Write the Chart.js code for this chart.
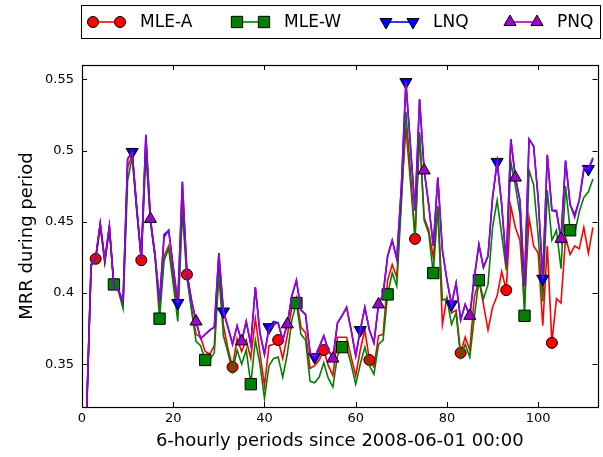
<!DOCTYPE html>
<html>
<head>
<meta charset="utf-8">
<script src="https://cdn.jsdelivr.net/npm/chart.js@4.4.1/dist/chart.umd.min.js"></script>
<style>
  html, body { margin: 0; padding: 0; background: #fff; }
  #chart { display: block; }
</style>
</head>
<body>
<canvas id="chart" width="603" height="457"></canvas>
<script>
// MRR per 6-hourly period
const mleA = [
    0.300, 0.315, 0.420, 0.424, 0.448, 0.422, 0.446, 0.404, 0.402, 0.392,
    0.488, 0.497, 0.458, 0.423, 0.505, 0.450, 0.426, 0.390, 0.426, 0.433,
    0.412, 0.388, 0.465, 0.413, 0.389, 0.371, 0.369, 0.359, 0.357, 0.363,
    0.418, 0.377, 0.361, 0.348, 0.368, 0.359, 0.367, 0.354, 0.382, 0.358,
    0.335, 0.363, 0.364, 0.367, 0.354, 0.370, 0.390, 0.397, 0.376, 0.372,
    0.347, 0.349, 0.353, 0.360, 0.349, 0.342, 0.369, 0.369, 0.369, 0.355,
    0.342, 0.360, 0.374, 0.353, 0.348, 0.370, 0.371, 0.409, 0.420, 0.411,
    0.467, 0.516, 0.478, 0.438, 0.511, 0.453, 0.444, 0.425, 0.461, 0.378,
    0.397, 0.386, 0.388, 0.358, 0.369, 0.360, 0.397, 0.409, 0.392, 0.374,
    0.390, 0.398, 0.415, 0.402, 0.461, 0.446, 0.437, 0.392, 0.453, 0.433,
    0.428, 0.377, 0.433, 0.365, 0.396, 0.393, 0.439, 0.427, 0.433, 0.431,
    0.446, 0.428, 0.446
];
const mleW = [
    0.300, 0.315, 0.419, 0.423, 0.447, 0.421, 0.445, 0.406, 0.401, 0.389,
    0.479, 0.495, 0.458, 0.423, 0.498, 0.450, 0.426, 0.382, 0.423, 0.431,
    0.406, 0.380, 0.457, 0.411, 0.388, 0.366, 0.363, 0.353, 0.353, 0.358,
    0.413, 0.370, 0.358, 0.345, 0.360, 0.350, 0.360, 0.336, 0.367, 0.350,
    0.326, 0.349, 0.354, 0.355, 0.341, 0.357, 0.381, 0.393, 0.371, 0.367,
    0.338, 0.337, 0.341, 0.351, 0.340, 0.334, 0.356, 0.362, 0.362, 0.350,
    0.336, 0.350, 0.362, 0.349, 0.343, 0.364, 0.367, 0.399, 0.414, 0.405,
    0.462, 0.527, 0.485, 0.440, 0.513, 0.451, 0.442, 0.414, 0.460, 0.395,
    0.396, 0.378, 0.386, 0.355, 0.364, 0.355, 0.383, 0.409, 0.396, 0.406,
    0.446, 0.465, 0.441, 0.416, 0.492, 0.475, 0.455, 0.384, 0.486, 0.476,
    0.440, 0.394, 0.472, 0.437, 0.444, 0.417, 0.475, 0.444, 0.442, 0.457,
    0.467, 0.471, 0.480
];
const lnq = [
    0.300, 0.315, 0.420, 0.425, 0.449, 0.423, 0.447, 0.404, 0.402, 0.394,
    0.494, 0.499, 0.460, 0.424, 0.511, 0.452, 0.427, 0.394, 0.441, 0.444,
    0.418, 0.393, 0.478, 0.414, 0.395, 0.380, 0.368, 0.371, 0.374, 0.376,
    0.428, 0.387, 0.376, 0.364, 0.377, 0.366, 0.380, 0.364, 0.404, 0.372,
    0.357, 0.376, 0.380, 0.379, 0.367, 0.378, 0.398, 0.409, 0.388, 0.385,
    0.358, 0.355, 0.362, 0.370, 0.360, 0.354, 0.379, 0.384, 0.390, 0.374,
    0.356, 0.374, 0.390, 0.374, 0.365, 0.392, 0.399, 0.426, 0.437, 0.424,
    0.474, 0.548, 0.503, 0.458, 0.536, 0.486, 0.462, 0.433, 0.481, 0.430,
    0.409, 0.392, 0.407, 0.381, 0.392, 0.384, 0.411, 0.434, 0.418, 0.426,
    0.467, 0.492, 0.462, 0.420, 0.508, 0.481, 0.465, 0.405, 0.508, 0.503,
    0.466, 0.410, 0.497, 0.458, 0.457, 0.438, 0.493, 0.462, 0.455, 0.465,
    0.486, 0.487, 0.494
];
const pnq = [
    0.300, 0.315, 0.420, 0.425, 0.449, 0.423, 0.447, 0.404, 0.402, 0.394,
    0.494, 0.499, 0.460, 0.424, 0.511, 0.452, 0.427, 0.394, 0.439, 0.444,
    0.418, 0.393, 0.478, 0.414, 0.395, 0.380, 0.368, 0.371, 0.374, 0.376,
    0.428, 0.387, 0.376, 0.364, 0.377, 0.366, 0.380, 0.364, 0.404, 0.372,
    0.357, 0.375, 0.378, 0.379, 0.367, 0.378, 0.398, 0.409, 0.388, 0.385,
    0.358, 0.355, 0.362, 0.370, 0.360, 0.354, 0.379, 0.384, 0.390, 0.374,
    0.356, 0.374, 0.390, 0.374, 0.365, 0.392, 0.399, 0.426, 0.437, 0.424,
    0.474, 0.548, 0.503, 0.458, 0.536, 0.486, 0.462, 0.433, 0.481, 0.430,
    0.409, 0.392, 0.407, 0.381, 0.392, 0.384, 0.411, 0.434, 0.418, 0.426,
    0.467, 0.492, 0.462, 0.420, 0.508, 0.481, 0.465, 0.405, 0.508, 0.503,
    0.466, 0.410, 0.497, 0.458, 0.458, 0.438, 0.493, 0.462, 0.453, 0.465,
    0.488, 0.487, 0.495
];

// period index for each value (0, 1, 2, ...)
const periods = mleA.map((_, i) => i);

const xTicks = [0, 20, 40, 60, 80, 100];
const yTicks = [0.35, 0.40, 0.45, 0.50, 0.55];

// a marker every 10 points, first one at 'start' (3, 7, 11, 15)
const markEvery = 10;

const seriesInfo = [
    { label: 'MLE-A', values: mleA, color: '#ff0000', marker: 'circle',   start: 3,  radius: 5.5, rot: 0 },
    { label: 'MLE-W', values: mleW, color: '#008000', marker: 'rect',     start: 7,  radius: 8,   rot: 0 },
    { label: 'LNQ',   values: lnq,  color: '#0000ff', marker: 'triangle', start: 11, radius: 7,   rot: 180 },
    { label: 'PNQ',   values: pnq,  color: '#a000d0', marker: 'triangle', start: 15, radius: 7,   rot: 0 }
];

const FONT = 'DejaVu Sans';

// frame + inward ticks on all four sides, like the matplotlib axes
const framePlugin = {
    id: 'frame',
    afterDatasetsDraw(chart) {
        const { ctx, chartArea: a, scales: { x, y } } = chart;
        const tick = 5;
        ctx.save();
        ctx.strokeStyle = '#000';
        ctx.lineWidth = 1;
        ctx.beginPath();
        xTicks.forEach(v => {
            const px = Math.round(x.getPixelForValue(v)) + 0.5;
            ctx.moveTo(px, a.bottom); ctx.lineTo(px, a.bottom - tick);
            ctx.moveTo(px, a.top);    ctx.lineTo(px, a.top + tick);
        });
        yTicks.forEach(v => {
            const py = Math.round(y.getPixelForValue(v)) + 0.5;
            ctx.moveTo(a.left, py);  ctx.lineTo(a.left + tick, py);
            ctx.moveTo(a.right, py); ctx.lineTo(a.right - tick, py);
        });
        ctx.stroke();
        ctx.lineWidth = 1.2;
        ctx.strokeRect(Math.round(a.left) + 0.5, Math.round(a.top) + 0.5,
            Math.round(a.right - a.left), Math.round(a.bottom - a.top));
        ctx.restore();
    }
};

function drawMarker(ctx, s, cx, cy) {
    const r = s.radius;
    ctx.beginPath();
    if (s.marker === 'circle') {
        ctx.arc(cx, cy, r, 0, Math.PI * 2);
    } else if (s.marker === 'rect') {
        const h = r * Math.SQRT1_2;
        ctx.rect(cx - h, cy - h, 2 * h, 2 * h);
    } else {
        const rad = s.rot * Math.PI / 180;
        for (let k = 0; k < 3; k++) {
            const ang = rad + k * 2 * Math.PI / 3;
            const px = cx + Math.sin(ang) * r;
            const py = cy - Math.cos(ang) * r;
            if (k === 0) ctx.moveTo(px, py); else ctx.lineTo(px, py);
        }
        ctx.closePath();
    }
    ctx.fillStyle = s.color;
    ctx.fill();
    ctx.strokeStyle = '#000';
    ctx.lineWidth = 1;
    ctx.stroke();
}

// boxed legend above the plot, one row
const legendPlugin = {
    id: 'boxLegend',
    afterDraw(chart) {
        const ctx = chart.ctx;
        const box = { left: 81.5, top: 5.5, right: 600.5, bottom: 38.5 };
        const itemX = [93, 237, 386, 510];
        const cy = (box.top + box.bottom) / 2;
        ctx.save();
        ctx.fillStyle = '#fff';
        ctx.fillRect(box.left, box.top, box.right - box.left, box.bottom - box.top);
        ctx.strokeStyle = '#000';
        ctx.lineWidth = 1;
        ctx.strokeRect(box.left, box.top, box.right - box.left, box.bottom - box.top);
        seriesInfo.forEach((s, i) => {
            const x0 = itemX[i];
            const x1 = x0 + 27;
            ctx.strokeStyle = s.color;
            ctx.lineWidth = 1.6;
            ctx.beginPath();
            ctx.moveTo(x0, cy); ctx.lineTo(x1, cy);
            ctx.stroke();
            drawMarker(ctx, s, x0, cy);
            drawMarker(ctx, s, x1, cy);
            ctx.fillStyle = '#000';
            ctx.font = '17px "' + FONT + '"';
            ctx.textBaseline = 'middle';
            ctx.textAlign = 'left';
            ctx.fillText(s.label, x1 + 20, cy + 1);
        });
        ctx.restore();
    }
};

const datasets = seriesInfo.map((s, i) => ({
    label: s.label,
    data: s.values.map((v, j) => ({ x: periods[j], y: v })),
    borderColor: s.color,
    backgroundColor: s.color,
    borderWidth: 1.6,
    tension: 0,
    fill: false,
    order: seriesInfo.length - i,
    pointStyle: s.marker,
    rotation: s.rot,
    pointBackgroundColor: s.color,
    pointBorderColor: '#000',
    pointBorderWidth: 1,
    pointRadius: ctx => {
        const k = ctx.dataIndex - s.start;
        return (k >= 0 && k % markEvery === 0) ? s.radius : 0;
    },
    pointHoverRadius: 0
}));

new Chart(document.getElementById('chart'), {
    type: 'line',
    data: { datasets },
    options: {
        responsive: false,
        devicePixelRatio: 1,
        animation: false,
        events: [],
        layout: { padding: { top: 65, right: 5.5, left: 0, bottom: 0 } },
        plugins: {
            legend: { display: false },
            tooltip: { enabled: false }
        },
        scales: {
            x: {
                type: 'linear',
                min: 0,
                max: 113,
                afterBuildTicks: scale => { scale.ticks = xTicks.map(v => ({ value: v })); },
                afterFit: scale => { scale.height = 50; },
                grid: { display: false, drawTicks: false, tickLength: 0 },
                border: { display: false },
                ticks: {
                    color: '#000',
                    padding: 4,
                    maxRotation: 0,
                    font: { family: FONT, size: 13 },
                    callback: v => String(v)
                },
                title: {
                    display: true,
                    text: '6-hourly periods since 2008-06-01 00:00',
                    color: '#000',
                    font: { family: FONT, size: 18 },
                    padding: { top: 0, bottom: 5 }
                }
            },
            y: {
                min: 0.32,
                max: 0.56,
                afterBuildTicks: scale => { scale.ticks = yTicks.map(v => ({ value: v })); },
                afterFit: scale => { scale.width = 82; },
                grid: { display: false, drawTicks: false, tickLength: 0 },
                border: { display: false },
                ticks: {
                    color: '#000',
                    padding: 8,
                    font: { family: FONT, size: 13 },
                    callback: v => String(+v.toFixed(2))
                },
                title: {
                    display: true,
                    text: 'MRR during period',
                    color: '#000',
                    font: { family: FONT, size: 18 },
                    padding: { top: 17, bottom: 0 }
                }
            }
        }
    },
    plugins: [framePlugin, legendPlugin]
});
</script>
</body>
</html>
